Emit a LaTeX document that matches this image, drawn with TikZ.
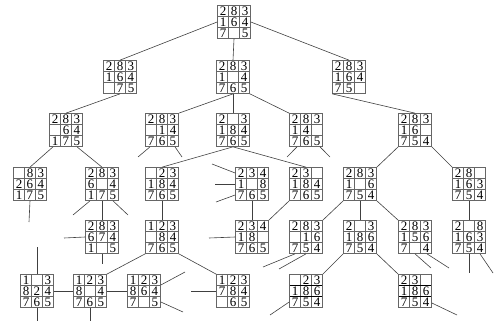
\documentclass[tikz,border=0pt]{standalone}
\usepackage{fontspec}
\setmainfont{Liberation Serif}
\definecolor{gridgray}{HTML}{666666}
\definecolor{linkgray}{HTML}{404040}
\newcommand{\tile}[1]{\makebox[11pt]{\rule{0pt}{9pt}#1}}
\newcommand{\puz}[9]{\vbox{\fontsize{13}{11}\selectfont\baselineskip=11pt
  \hbox{\tile{#1}\tile{#2}\tile{#3}}\hbox{\tile{#4}\tile{#5}\tile{#6}}\hbox{\tile{#7}\tile{#8}\tile{#9}}}}
\newcommand{\gridlines}[2]{%
  \draw[gridgray,line width=0.7pt]
    ([xshift=11pt]path picture bounding box.north west) -- ([xshift=11pt]path picture bounding box.south west)
    ([xshift=22pt]path picture bounding box.north west) -- ([xshift=22pt]path picture bounding box.south west);
  \draw[#1,line width=#2]
    ([yshift=-11pt]path picture bounding box.north west) -- ([yshift=-11pt]path picture bounding box.north east)
    ([yshift=-22pt]path picture bounding box.north west) -- ([yshift=-22pt]path picture bounding box.north east);}
\begin{document}
\begin{tikzpicture}[x=1pt,y=-1pt,
  board/.style={draw=gridgray,line width=0.7pt,minimum size=33pt,inner sep=0pt,
    path picture={\gridlines{gridgray}{0.7pt}}},
  heavyboard/.style={board,path picture={\gridlines{black}{1.3pt}}},
  link/.style={draw=linkgray,line width=0.6pt}]
\useasboundingbox (0,0) rectangle (494,321);
% level 0 and 1
\node[board] (r) at (234,22) {\puz{2}{8}{3}{1}{6}{4}{7}{}{5}};
\node[board] (a) at (120,77) {\puz{2}{8}{3}{1}{6}{4}{}{7}{5}};
\node[board] (b) at (233,77) {\puz{2}{8}{3}{1}{}{4}{7}{6}{5}};
\node[board] (c) at (349,77) {\puz{2}{8}{3}{1}{6}{4}{7}{5}{}};
% level 2
\node[board] (aa) at (66,130) {\puz{2}{8}{3}{}{6}{4}{1}{7}{5}};
\node[board] (ba) at (162,130) {\puz{2}{8}{3}{}{1}{4}{7}{6}{5}};
\node[board] (bb) at (233,130) {\puz{2}{}{3}{1}{8}{4}{7}{6}{5}};
\node[board] (bc) at (306,130) {\puz{2}{8}{3}{1}{4}{}{7}{6}{5}};
\node[board] (ca) at (415,130) {\puz{2}{8}{3}{1}{6}{}{7}{5}{4}};
% level 3
\node[board] (aaa) at (30,184) {\puz{}{8}{3}{2}{6}{4}{1}{7}{5}};
\node[board] (aab) at (102,184) {\puz{2}{8}{3}{6}{}{4}{1}{7}{5}};
\node[board] (bba) at (162,184) {\puz{}{2}{3}{1}{8}{4}{7}{6}{5}};
\node[board] (bbb) at (252,184) {\puz{2}{3}{4}{1}{}{8}{7}{6}{5}};
\node[board] (bbc) at (306,184) {\puz{2}{3}{}{1}{8}{4}{7}{6}{5}};
\node[board] (caa) at (360,184) {\puz{2}{8}{3}{1}{}{6}{7}{5}{4}};
\node[board] (cab) at (469,184) {\puz{2}{8}{}{1}{6}{3}{7}{5}{4}};
% level 4
\node[board] (aaba) at (102,237) {\puz{2}{8}{3}{6}{7}{4}{1}{}{5}};
\node[board] (bbaa) at (162,237) {\puz{1}{2}{3}{}{8}{4}{7}{6}{5}};
\node[board] (bbca) at (252,237) {\puz{2}{3}{4}{1}{8}{}{7}{6}{5}};
\node[board] (caaa) at (306,237) {\puz{2}{8}{3}{}{1}{6}{7}{5}{4}};
\node[board] (caab) at (360,237) {\puz{2}{}{3}{1}{8}{6}{7}{5}{4}};
\node[board] (caac) at (415,237) {\puz{2}{8}{3}{1}{5}{6}{7}{}{4}};
\node[board] (caba) at (469,237) {\puz{2}{}{8}{1}{6}{3}{7}{5}{4}};
% level 5
\node[board] (bbaaa1) at (37,291) {\puz{1}{}{3}{8}{2}{4}{7}{6}{5}};
\node[board] (bbaaa) at (90,291) {\puz{1}{2}{3}{8}{}{4}{7}{6}{5}};
\node[board] (bbaaa2) at (144,291) {\puz{1}{2}{3}{8}{6}{4}{7}{}{5}};
\node[board] (bbaab) at (233,291) {\puz{1}{2}{3}{7}{8}{4}{}{6}{5}};
\node[heavyboard] (caaba) at (306,291) {\puz{}{2}{3}{1}{8}{6}{7}{5}{4}};
\node[heavyboard] (caabb) at (415,291) {\puz{2}{3}{}{1}{8}{6}{7}{5}{4}};
% loose ends
\coordinate (ba-l) at (138,157);
\coordinate (ba-r) at (182,157);
\coordinate (bc-l) at (287,157);
\coordinate (bc-r) at (330,157);
\coordinate (aaa-d) at (29,222);
\coordinate (aab-l) at (73,215);
\coordinate (aab-r) at (128,215);
\coordinate (aaba-l) at (64,238);
\coordinate (aaba-d) at (102,264);
\coordinate (bbb-a) at (212,164);
\coordinate (bbb-b) at (215,184);
\coordinate (bbb-c) at (216,202);
\coordinate (bbca-l) at (209,238);
\coordinate (caaa-a) at (263,267);
\coordinate (caaa-b) at (279,269);
\coordinate (caac-a) at (431,268);
\coordinate (caac-b) at (449,268);
\coordinate (caba-a) at (469,273);
\coordinate (caba-b) at (493,273);
\coordinate (bbaaa1-u) at (37,247);
\coordinate (bbaaa1-d) at (37,321);
\coordinate (bbaaa-d) at (90,321);
\coordinate (bbaaa2-u) at (185,272);
\coordinate (bbaaa2-d) at (183,312);
\coordinate (bbaab-l) at (191,291);
\coordinate (caaba-d) at (270,315);
\coordinate (caabb-d) at (457,315);
% tree links
\draw[link] (r.west) -- (a.north);
\draw[link] (r.south) -- (b.north);
\draw[link] (r.east) -- (c.north);
\draw[link] (a.south) -- (aa.north);
\draw[link] (b.south) -- (ba.north east);
\draw[link] (b.south) -- (bb.north);
\draw[link] (b.south east) -- (bc.north west);
\draw[link] (c.south west) -- (ca.north);
\draw[link] ([xshift=-13pt]aa.south) -- (aaa.north);
\draw[link] ([xshift=11pt]aa.south) -- (aab.north);
\draw[link] ([xshift=-12pt]ba.south) -- (ba-l);
\draw[link] ([xshift=13pt]ba.south) -- (ba-r);
\draw[link] (bb.south) -- (bba.north);
\draw[link] (bb.south) -- (bbc.north);
\draw[link] ([xshift=-9pt]bc.south) -- (bc-l);
\draw[link] ([xshift=14pt]bc.south) -- (bc-r);
\draw[link] (ca.south west) -- (caa.north east);
\draw[link] (ca.south east) -- (cab.north west);
\draw[link] (aaa.south) -- (aaa-d);
\draw[link] ([xshift=-12pt]aab.south) -- (aab-l);
\draw[link] (aab.south) -- (aaba.north);
\draw[link] ([xshift=11pt]aab.south) -- (aab-r);
\draw[link] (bba.south) -- (bbaa.north);
\draw[link] (bbb-a) -- ([yshift=11pt]bbb.west);
\draw[link] (bbb-b) -- (bbb.west);
\draw[link] (bbb-c) -- ([yshift=-11pt]bbb.west);
\draw[link] (bbb.south) -- (bbca.north);
\draw[link] (bbc.south west) -- (bbca.north east);
\draw[link] (caa.south west) -- (caaa.north east);
\draw[link] (caa.south) -- (caab.north);
\draw[link] (caa.south east) -- (caac.north west);
\draw[link] (cab.south) -- (caba.north);
\draw[link] (aaba.west) -- (aaba-l);
\draw[link] (aaba.south) -- (aaba-d);
\draw[link] (bbaa.south west) -- (bbaaa.north east);
\draw[link] (bbaa.south east) -- (bbaab.north west);
\draw[link] (bbca-l) -- (bbca.west);
\draw[link] ([xshift=-11pt]caaa.south) -- (caaa-a);
\draw[link] (caaa.south) -- (caaa-b);
\draw[link] (caab.south west) -- (caaba.north east);
\draw[link] (caab.south east) -- (caabb.north west);
\draw[link] (caac.south) -- (caac-a);
\draw[link] ([xshift=12pt]caac.south) -- (caac-b);
\draw[link] (caba.south) -- (caba-a);
\draw[link] ([xshift=11pt]caba.south) -- (caba-b);
\draw[link] (bbaaa1-u) -- (bbaaa1.north);
\draw[link] (bbaaa1.south) -- (bbaaa1-d);
\draw[link] (bbaaa1.east) -- (bbaaa.west);
\draw[link] (bbaaa.east) -- (bbaaa2.west);
\draw[link] (bbaaa.south) -- (bbaaa-d);
\draw[link] ([yshift=6pt]bbaaa2.east) -- (bbaaa2-u);
\draw[link] ([yshift=-11pt]bbaaa2.east) -- (bbaaa2-d);
\draw[link] (bbaab-l) -- (bbaab.west);
\draw[link] ([yshift=-11pt]caaba.west) -- (caaba-d);
\draw[link] ([yshift=-12pt]caabb.east) -- (caabb-d);
\end{tikzpicture}
\end{document}
